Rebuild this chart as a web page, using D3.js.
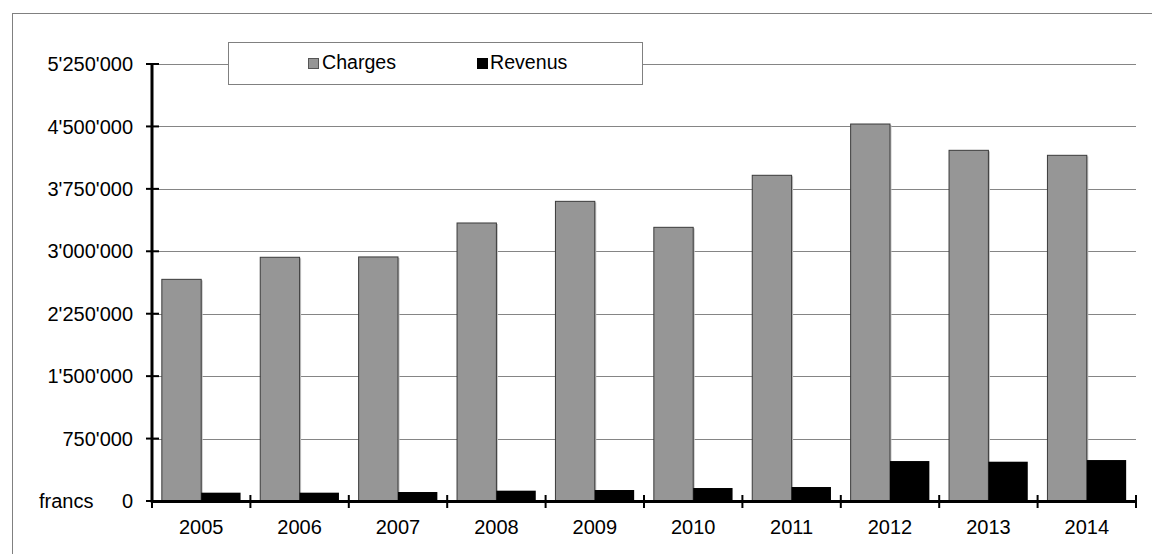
<!DOCTYPE html>
<html>
<head>
<meta charset="utf-8">
<script src="https://cdn.jsdelivr.net/npm/d3@7/dist/d3.min.js"></script>
<style>
  html, body { margin: 0; padding: 0; background: #fff; }
  svg { display: block; font-family: "Liberation Sans", Arial, sans-serif; }
</style>
</head>
<body>
<svg id="chart" width="1152" height="554"></svg>
<script>
// Annual charges and revenues, in francs
const years = ["2005", "2006", "2007", "2008", "2009", "2010", "2011", "2012", "2013", "2014"];
const seriesNames = ["Charges", "Revenus"];
const charges = [2663000, 2928000, 2932000, 3340000, 3600000, 3288000, 3913000, 4529000, 4213000, 4153000];
const revenus = [100000, 100000, 108000, 124000, 132000, 156000, 168000, 480000, 472000, 492000];
const yTicks = [0, 750000, 1500000, 2250000, 3000000, 3750000, 4500000, 5250000];
const unitLabel = "francs";

const colors = { Charges: "#969696", Revenus: "#000000" };

const svg = d3.select("#chart");
const W = 1152, H = 554;
const plotLeft = 152, plotRight = 1136, plotTop = 64, plotBottom = 501;

// outer frame
svg.append("rect")
  .attr("x", 12.5).attr("y", 13.5)
  .attr("width", W).attr("height", H)
  .attr("fill", "#fff").attr("stroke", "#808080").attr("stroke-width", 1);

const y = d3.scaleLinear().domain([0, 5250000]).range([plotBottom, plotTop]);
const x0 = d3.scaleBand().domain(years).range([plotLeft, plotRight]).paddingInner(0.2).paddingOuter(0.1);
const x1 = d3.scaleBand().domain(seriesNames).range([0, x0.bandwidth()]);

const fmt = d3.formatLocale({ decimal: ".", thousands: "'", grouping: [3], currency: ["", ""] }).format(",");

// horizontal gridlines
svg.append("g").selectAll("line")
  .data(yTicks.filter(d => d > 0))
  .join("line")
  .attr("x1", plotLeft).attr("x2", plotRight)
  .attr("y1", d => Math.round(y(d)) + 0.5).attr("y2", d => Math.round(y(d)) + 0.5)
  .attr("stroke", "#858585").attr("stroke-width", 1);

// legend box
const legend = svg.append("g");
legend.append("rect")
  .attr("x", 228.5).attr("y", 42.5).attr("width", 414).attr("height", 42)
  .attr("fill", "#fff").attr("stroke", "#808080").attr("stroke-width", 1);
const legendItems = [
  { name: "Charges", sx: 308, tx: 322 },
  { name: "Revenus", sx: 477, tx: 490 }
];
legendItems.forEach(it => {
  legend.append("rect")
    .attr("x", it.sx + 0.5).attr("y", 58.5).attr("width", 10).attr("height", 10)
    .attr("fill", colors[it.name])
    .attr("stroke", it.name === "Charges" ? "#555" : "#000").attr("stroke-width", 1);
  legend.append("text")
    .attr("x", it.tx).attr("y", 68.5)
    .attr("font-size", 19.6).attr("fill", "#000")
    .text(it.name);
});

// bars
const rows = years.map((yr, i) => ({ year: yr, Charges: charges[i], Revenus: revenus[i] }));
const groups = svg.append("g").selectAll("g")
  .data(rows)
  .join("g")
  .attr("transform", d => `translate(${x0(d.year)},0)`);

// soft shadow to the right of the grey bars
groups.append("rect")
  .attr("x", x1("Charges") + 1.5)
  .attr("y", d => y(d.Charges) + 1)
  .attr("width", x1.bandwidth())
  .attr("height", d => plotBottom - y(d.Charges) - 1)
  .attr("fill", "#c4c4c4");

groups.append("rect")
  .attr("x", x1("Charges"))
  .attr("y", d => y(d.Charges))
  .attr("width", x1.bandwidth())
  .attr("height", d => plotBottom - y(d.Charges))
  .attr("fill", colors.Charges)
  .attr("stroke", "#3a3a3a").attr("stroke-width", 1);

groups.append("rect")
  .attr("x", x1("Revenus"))
  .attr("y", d => y(d.Revenus))
  .attr("width", x1.bandwidth())
  .attr("height", d => plotBottom - y(d.Revenus))
  .attr("fill", colors.Revenus);

// y axis
svg.append("line")
  .attr("x1", plotLeft).attr("x2", plotLeft)
  .attr("y1", y(5250000) - 1).attr("y2", plotBottom + 1.5)
  .attr("stroke", "#000").attr("stroke-width", 3);
svg.append("g").selectAll("line")
  .data(yTicks)
  .join("line")
  .attr("x1", plotLeft - 6).attr("x2", plotLeft + 7)
  .attr("y1", d => y(d)).attr("y2", d => y(d))
  .attr("stroke", "#000").attr("stroke-width", 2);
svg.append("g").selectAll("text")
  .data(yTicks)
  .join("text")
  .attr("x", 133).attr("y", d => y(d))
  .attr("dy", "0.36em")
  .attr("text-anchor", "end")
  .attr("font-size", 20).attr("fill", "#000")
  .text(d => fmt(d));
svg.append("text")
  .attr("x", 39).attr("y", y(0)).attr("dy", "0.36em")
  .attr("font-size", 20).attr("fill", "#000")
  .text(unitLabel);

// x axis
svg.append("line")
  .attr("x1", plotLeft - 1).attr("x2", plotRight + 1)
  .attr("y1", plotBottom + 0.5).attr("y2", plotBottom + 0.5)
  .attr("stroke", "#000").attr("stroke-width", 3);
const step = x0.step();
const boundaries = d3.range(years.length + 1).map(i => plotLeft + i * step);
svg.append("g").selectAll("line")
  .data(boundaries)
  .join("line")
  .attr("x1", d => d).attr("x2", d => d)
  .attr("y1", plotBottom - 6).attr("y2", plotBottom + 7)
  .attr("stroke", "#000").attr("stroke-width", 2);
svg.append("g").selectAll("text")
  .data(years)
  .join("text")
  .attr("x", d => x0(d) + x0.bandwidth() / 2)
  .attr("y", 534)
  .attr("text-anchor", "middle")
  .attr("font-size", 20).attr("fill", "#000")
  .text(d => d);
</script>
</body>
</html>
